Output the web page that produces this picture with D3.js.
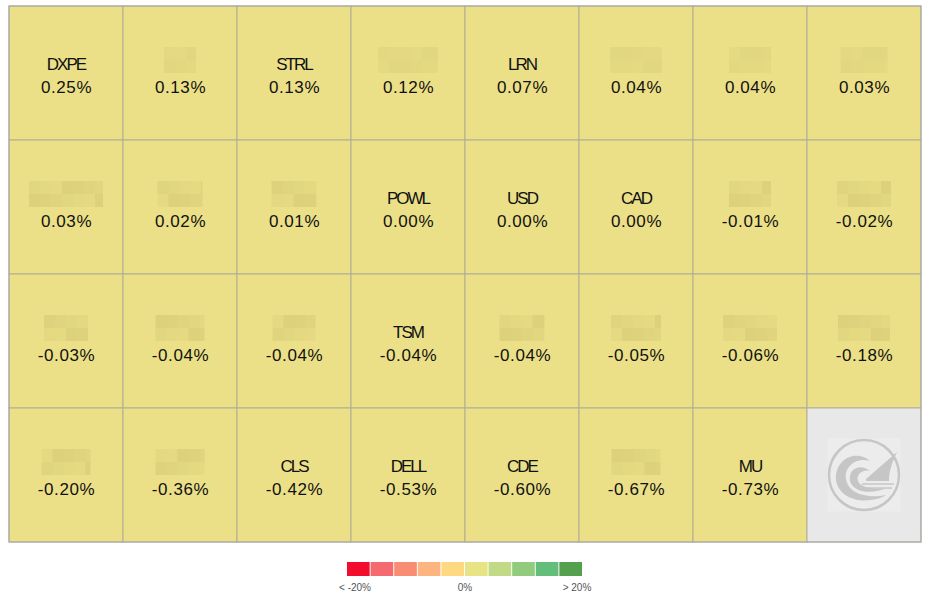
<!DOCTYPE html>
<html><head><meta charset="utf-8">
<script src="https://cdn.jsdelivr.net/npm/d3@7"></script>
<style>
html,body{margin:0;padding:0;background:#fff;}
svg{display:block;font-family:"Liberation Sans",Arial,sans-serif;}
</style></head><body>
<svg id="c" width="931" height="599"></svg>
<script>
// ---- data ----
const tickers = ["DXPE", null, "STRL", null, "LRN", null, null, null,
                 null, null, null, "POWL", "USD", "CAD", null, null,
                 null, null, null, "TSM", null, null, null, null,
                 null, null, "CLS", "DELL", "CDE", null, "MU"];
const changes = [0.25, 0.13, 0.13, 0.12, 0.07, 0.04, 0.04, 0.03,
                 0.03, 0.02, 0.01, 0.00, 0.00, 0.00, -0.01, -0.02,
                 -0.03, -0.04, -0.04, -0.04, -0.04, -0.05, -0.06, -0.18,
                 -0.20, -0.36, -0.42, -0.53, -0.60, -0.67, -0.73];
// hidden (pixelated) label widths for masked tickers
const maskWidths = [0, 32, 0, 60, 0, 52, 42, 47,
                    74, 45, 45, 0, 0, 0, 42, 54,
                    44, 49, 43, 0, 45, 50, 54, 52,
                    49, 49, 0, 0, 0, 49, 0];
const legendColors = ["#f20d2c","#f56a6e","#f98d74","#fdb47e","#ffd882","#e8e486","#c2d985","#93cb7e","#63be7a","#55a04e"];
const legendLabels = ["< -20%", "0%", "> 20%"];

const nCols = 8, nRows = 4;
const svg = d3.select("#c");
const x = d3.scaleBand().domain(d3.range(nCols)).range([9, 921]).padding(0);
const y = d3.scaleBand().domain(d3.range(nRows)).range([6, 542]).padding(0);
const color = d3.scaleLinear().domain([-20, -2, 2, 20])
  .range(["#f20d2c", "#ebe087", "#ebe087", "#55a04e"]).clamp(true);
const fmt = v => d3.format(".2f")(v).replace("\u2212", "-") + "%";

const tiles = d3.range(nCols * nRows).map(i => ({
  i, col: i % nCols, row: Math.floor(i / nCols),
  ticker: tickers[i], value: changes[i], mask: maskWidths[i]
}));

const g = svg.append("g");
const cell = g.selectAll("g.tile").data(tiles).join("g").attr("class", "tile")
  .attr("transform", d => `translate(${x(d.col)},${y(d.row)})`);

cell.append("rect")
  .attr("width", x.bandwidth()).attr("height", y.bandwidth())
  .attr("fill", d => d.value === undefined ? "#e8e8e8" : color(d.value))
  .attr("stroke", "#b0ad95").attr("stroke-width", 1);

const cx = x.bandwidth() / 2, cy = y.bandwidth() / 2;
const dataTiles = cell.filter(d => d.value !== undefined);

dataTiles.filter(d => d.ticker).append("text")
  .attr("x", cx).attr("y", cy - 3.5).attr("text-anchor", "middle")
  .attr("font-size", 17).attr("letter-spacing", "-2px").attr("fill", "#111")
  .text(d => d.ticker);

dataTiles.append("text")
  .attr("x", cx + 0.5).attr("y", cy + 19.5).attr("text-anchor", "middle")
  .attr("font-size", 17).attr("letter-spacing", "0.6px").attr("fill", "#111")
  .text(d => fmt(d.value));

// pixelated masks for hidden tickers
dataTiles.filter(d => !d.ticker).each(function(d) {
  const gg = d3.select(this);
  const w = d.mask, h = 26, bs = 11;
  const x0 = cx - w / 2, y0 = cy - 26;
  const nb = Math.ceil(w / bs);
  for (let r = 0; r < 2; r++) {
    for (let k = 0; k < nb; k++) {
      const bw = Math.min(bs, w - k * bs);
      const shade = ((d.i * 7 + k * 5 + r * 3) % 6) / 6;
      gg.append("rect")
        .attr("x", x0 + k * bs).attr("y", y0 + r * h / 2)
        .attr("width", bw).attr("height", h / 2)
        .attr("fill", "#a89a50")
        .attr("opacity", 0.08 + 0.16 * shade * (d.i < 8 ? 0.4 : 1));
    }
  }
});

// logo tile
const last = tiles[nCols * nRows - 1];
const lg = svg.append("g").attr("transform", `translate(${x(last.col) + cx},${y(last.row) + cy})`);
lg.append("rect").attr("x", -36.5).attr("y", -36.5).attr("width", 73).attr("height", 73).attr("fill", "#ececec");
lg.append("circle").attr("r", 35).attr("fill", "none").attr("stroke", "#c6c6c6").attr("stroke-width", 2.5);
lg.append("path").attr("fill", "#c6c6c6")
  .attr("d", "M-28,6 C-30,-16 -8,-26 6,-14 C-8,-18 -20,-8 -18,4 C-16,18 2,24 22,20 C10,28 -22,30 -28,6 Z");
lg.append("path").attr("fill", "#c6c6c6")
  .attr("d", "M-14,6 C-16,-6 -4,-12 6,-4 C-2,-6 -8,0 -6,6 C-4,12 8,15 22,13 C10,19 -10,19 -14,6 Z");
lg.append("path").attr("fill", "#c6c6c6")
  .attr("d", "M2,4 L33,-23 C28,-12 25,-4 25,6 L2,6 Z");
lg.append("path").attr("fill", "none").attr("stroke", "#c6c6c6").attr("stroke-width", 1.5)
  .attr("d", "M-2,9 L30,9 M2,13 L28,13");

// outer border
svg.append("rect").attr("x", 9).attr("y", 6).attr("width", 912).attr("height", 536)
  .attr("fill", "none").attr("stroke", "#a8a8a8").attr("stroke-width", 1);

// legend
const lx = d3.scaleBand().domain(d3.range(legendColors.length)).range([347, 582]).paddingInner(0.04);
svg.append("g").selectAll("rect").data(legendColors).join("rect")
  .attr("x", (d, i) => lx(i)).attr("y", 562).attr("width", lx.bandwidth()).attr("height", 14)
  .attr("fill", d => d);
const labelPos = d3.scaleLinear().domain([0, 2]).range([355, 577]);
svg.append("g").selectAll("text").data(legendLabels).join("text")
  .attr("x", (d, i) => i === 1 ? 465 : labelPos(i)).attr("y", 591).attr("text-anchor", "middle")
  .attr("font-size", 10).attr("fill", "#555").text(d => d);
</script>
</body></html>
